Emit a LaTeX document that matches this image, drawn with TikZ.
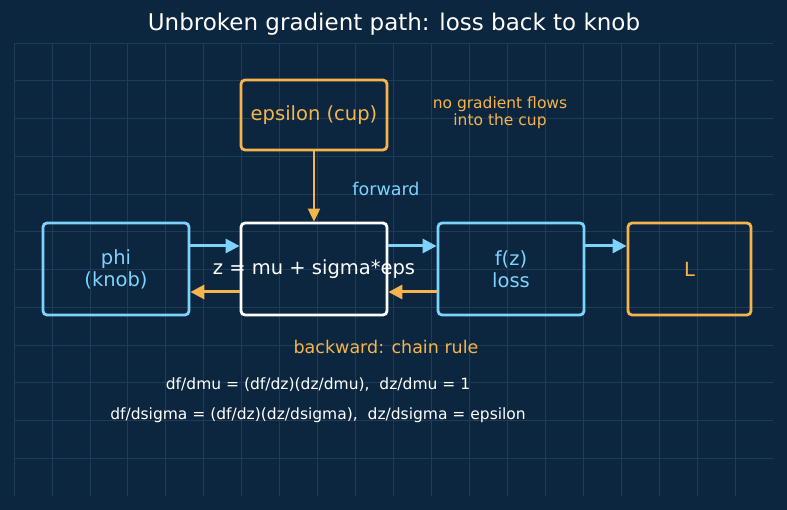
\documentclass[tikz,border=0pt]{standalone}
\usepackage{fontspec}
\setmainfont{DejaVu Sans}
\usetikzlibrary{arrows.meta}
\definecolor{bg}{RGB}{12,38,64}
\definecolor{gridc}{RGB}{30,59,88}
\definecolor{skyb}{RGB}{125,211,252}
\definecolor{amb}{RGB}{246,180,76}
\tikzset{
  box/.style={draw, line width=2.8pt, rounded corners=4pt, minimum height=92pt, align=center, inner sep=0pt, font=\fontsize{19.5}{22}\selectfont},
  fwd/.style={draw=skyb, line width=3pt, -{Triangle[length=14pt,width=14pt]}},
  bwd/.style={draw=amb, line width=3pt, -{Triangle[length=14pt,width=14pt]}},
  lbl/.style={font=\fontsize{17.5}{20}\selectfont, inner sep=0pt},
  eq/.style={font=\fontsize{15.5}{18}\selectfont, inner sep=0pt, text=white},
}
\begin{document}
\begin{tikzpicture}[x=1pt,y=-1pt]
\fill[bg] (0,0) rectangle (787,510);
\useasboundingbox (0,0) rectangle (787,510);
\foreach \i in {0,...,19} \draw[gridc, line width=0.8pt] ({14+37.95*\i},43) -- ({14+37.95*\i},496);
\foreach \j in {0,...,11} \draw[gridc, line width=0.8pt] (14,{43+37.75*\j}) -- (773,{43+37.75*\j});
\node[text=white, font=\fontsize{23}{26}\selectfont, inner sep=0pt] (title) at (394,24) {Unbroken gradient path: loss back to knob};
\node[box, draw=amb, text=amb, minimum width=146pt, minimum height=70pt] (eps) at (314,115) {epsilon (cup)};
\node[box, draw=skyb, text=skyb, minimum width=146pt] (phi) at (116,269) {phi\\(knob)};
\node[box, draw=white, minimum width=146pt, label={[text=white, inner sep=0pt, font=\fontsize{19.5}{22}\selectfont]center:z = mu + sigma*eps}] (z) at (314,269) {};
\node[box, draw=skyb, text=skyb, minimum width=146pt] (f) at (511,269) {f(z)\\loss};
\node[box, draw=amb, text=amb, minimum width=123pt] (L) at (689.5,269) {L};
\draw[draw=amb, line width=2pt, -{Triangle[length=13pt,width=12pt]}] (eps.south) -- (z.north);
\draw[fwd] ([yshift=23pt]phi.east) -- ([yshift=23pt]z.west);
\draw[fwd] ([yshift=23pt]z.east) -- ([yshift=23pt]f.west);
\draw[fwd] ([yshift=23pt]f.east) -- ([yshift=23pt]L.west);
\draw[bwd] ([yshift=-23pt]z.west) -- ([yshift=-23pt]phi.east);
\draw[bwd] ([yshift=-23pt]f.west) -- ([yshift=-23pt]z.east);
\node[lbl, text=skyb] (fw) at (386,189) {forward};
\node[text=amb, align=center, inner sep=0pt, font=\fontsize{15.5}{17}\selectfont] (nog) at (500,113) {no gradient flows\\into the cup};
\node[lbl, text=amb] (bw) at (386,347) {backward: chain rule};
\node[eq] (e1) at (318,385) {df/dmu = (df/dz)(dz/dmu),\ \ dz/dmu = 1};
\node[eq] (e2) at (318,415) {df/dsigma = (df/dz)(dz/dsigma),\ \ dz/dsigma = epsilon};
\end{tikzpicture}
\end{document}
